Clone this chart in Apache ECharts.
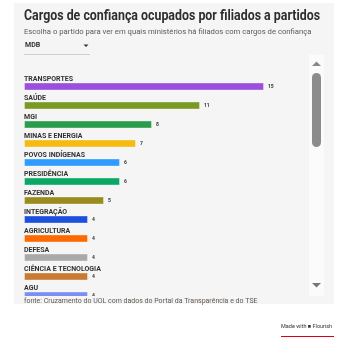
<!DOCTYPE html>
<html>
<head>
<meta charset="utf-8">
<script src="https://cdn.jsdelivr.net/npm/echarts@6/dist/echarts.min.js"></script>
<style>
html,body{margin:0;padding:0;background:#fff;}
#chart{width:339px;height:346px;}
</style>
</head>
<body>
<div id="chart"></div>
<script>
const categories = ['TRANSPORTES','SAÚDE','MGI','MINAS E ENERGIA','POVOS INDÍGENAS','PRESIDÊNCIA','FAZENDA','INTEGRAÇÃO','AGRICULTURA','DEFESA','CIÊNCIA E TECNOLOGIA','AGU'];
const values = [15, 11, 8, 7, 6, 6, 5, 4, 4, 4, 4, 4];
const colors = ['#9a50dc','#7a9a22','#2a9d4c','#f5bb10','#2e9bfd','#0aa866','#9a8b1e','#1c50de','#fd6a02','#a9a9a9','#c97a32','#7a8ff0'];
const titleText = 'Cargos de confiança ocupados por filiados a partidos';

const chart = echarts.init(document.getElementById('chart'), null, {renderer:'canvas'});
const FF = 'Roboto, "Noto Sans", sans-serif';

// measure title to compress it horizontally to the reference width
const cv = document.createElement('canvas').getContext('2d');
cv.font = 'bold 15px Roboto';
const titleW = cv.measureText(titleText).width;
const titleScale = 296 / titleW;

chart.setOption({
  animation: false,
  backgroundColor: '#ffffff',
  grid: {left: 24, width: 288, top: 77, height: 228, containLabel: false},
  xAxis: {type: 'value', min: 0, max: 18, show: false},
  yAxis: {type: 'category', data: categories, inverse: true, show: false},
  series: [{
    type: 'bar',
    barWidth: 8,
    z: 3,
    data: values.map((v, i) => ({value: v, itemStyle: {color: colors[i]}})),
    itemStyle: {borderColor: 'rgba(255,255,255,0.35)', borderWidth: 1},
    label: {
      show: true,
      position: 'right',
      distance: 4,
      formatter: p => p.value,
      fontSize: 5,
      fontWeight: 'bold',
      color: '#333',
      fontFamily: FF
    }
  }, {
    type: 'bar',
    barWidth: 8,
    barGap: '-100%',
    z: 2,
    data: values.map(v => v),
    itemStyle: {color: 'rgba(0,0,0,0)'},
    label: {
      show: true,
      position: [0, 0],
      verticalAlign: 'bottom',
      align: 'left',
      formatter: p => categories[p.dataIndex],
      fontSize: 7,
      fontWeight: 'bold',
      color: '#333',
      fontFamily: FF
    }
  }],
  graphic: [
    {type: 'rect', z: -10, silent: true, shape: {x: 14, y: 3, width: 320, height: 301}, style: {fill: '#f5f5f5'}},
    {type: 'text', z: 10, x: 24, y: 9, scaleX: titleScale, style: {x: 0, y: 0, text: titleText, fontSize: 15, fontWeight: 'bold', fill: '#2e2e2e', fontFamily: 'Roboto', verticalAlign: 'top'}},
    {type: 'text', z: 10, left: 24, top: 28, style: {text: 'Escolha o partido para ver em quais ministérios há filiados com cargos de confiança', fontSize: 7.7, fill: '#5a5a5a', fontFamily: FF}},
    {type: 'text', z: 10, left: 25, top: 42, style: {text: 'MDB', fontSize: 7, fontWeight: 'bold', fill: '#333', fontFamily: FF}},
    {type: 'polygon', z: 10, shape: {points: [[83.5, 44.5], [88.5, 44.5], [86, 47]]}, style: {fill: '#333'}},
    {type: 'line', z: 10, shape: {x1: 24, y1: 54.5, x2: 90, y2: 54.5}, style: {stroke: '#cfcfcf', lineWidth: 1}},
    {type: 'rect', z: 100, shape: {x: 14, y: 296, width: 295, height: 8}, style: {fill: '#f5f5f5'}},
    {type: 'rect', z: 100, shape: {x: 309, y: 55, width: 15, height: 241}, style: {fill: '#fbfbfb'}},
    {type: 'rect', z: 101, shape: {x: 312, y: 73, width: 9, height: 74, r: 4.5}, style: {fill: '#8c8c8c'}},
    {type: 'polygon', z: 101, shape: {points: [[312, 66], [321, 66], [316.5, 61.5]]}, style: {fill: '#888'}},
    {type: 'polygon', z: 101, shape: {points: [[312, 283], [321, 283], [316.5, 287.5]]}, style: {fill: '#777'}},
    {type: 'text', z: 102, left: 24, top: 298, style: {text: 'fonte: Cruzamento do UOL com dados do Portal da Transparência e do TSE', fontSize: 7, fill: '#5e5650', fontFamily: FF}},
    {type: 'text', z: 102, left: 281, top: 324, style: {text: 'Made with \u25A0 Flourish', fontSize: 5.5, fill: '#333', fontFamily: FF}},
    {type: 'line', z: 102, shape: {x1: 281, y1: 336.5, x2: 334, y2: 336.5}, style: {stroke: '#d7001e', lineWidth: 1}}
  ]
});
</script>
</body>
</html>
